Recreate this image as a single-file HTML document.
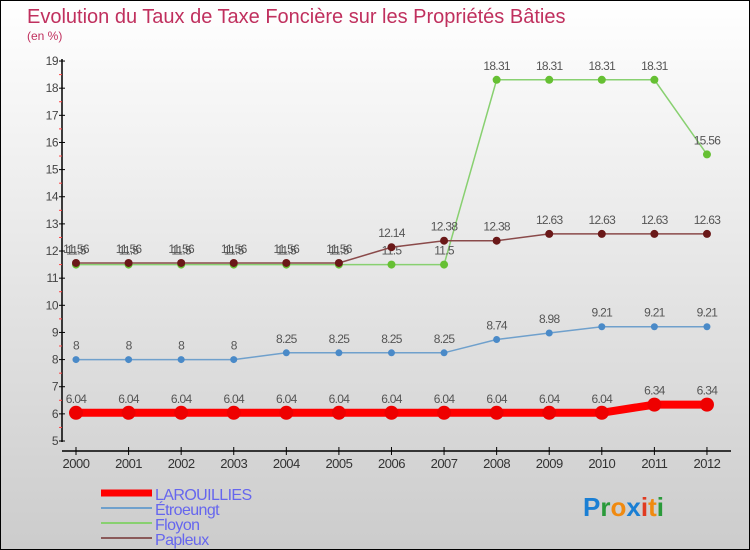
<!DOCTYPE html>
<html><head><meta charset="utf-8"><style>
body{margin:0}
#c{position:relative;width:748px;height:548px;border:1px solid #000;background:linear-gradient(#fff,#ccc);font-family:"Liberation Sans",sans-serif;overflow:hidden}
</style></head><body>
<div id="c">
<svg id="s" width="748" height="548" style="position:absolute;left:0;top:0">
<text x="26" y="22" font-size="20" fill="#c0305e">Evolution du Taux de Taxe Foncière sur les Propriétés Bâties</text>
<text x="26" y="39" font-size="12" fill="#c0305e">(en %)</text>
<g id="ax"></g><g id="series"></g>
<g>
<line x1="100" y1="492" x2="151" y2="492" stroke="#f00" stroke-width="7"/>
<text x="154" y="499" font-size="16" letter-spacing="-0.6" fill="#6666ee">LAROUILLIES</text>
<line x1="100" y1="507" x2="151" y2="507" stroke="#6fa0cc" stroke-width="2"/>
<text x="154" y="514" font-size="16" letter-spacing="-0.6" fill="#6666ee">Étroeungt</text>
<line x1="100" y1="522" x2="151" y2="522" stroke="#88d070" stroke-width="2"/>
<text x="154" y="529" font-size="16" letter-spacing="-0.6" fill="#6666ee">Floyon</text>
<line x1="100" y1="537" x2="151" y2="537" stroke="#8a5a5a" stroke-width="2"/>
<text x="154" y="544" font-size="16" letter-spacing="-0.6" fill="#6666ee">Papleux</text>
</g>
<text x="582" y="515" font-size="26" font-weight="bold"><tspan fill="#1a7fd4">P</tspan><tspan fill="#2a9a3a">r</tspan><tspan fill="#f08a10">o</tspan><tspan fill="#1a7fd4">x</tspan><tspan fill="#e03a20">i</tspan><tspan fill="#f08a10">t</tspan><tspan fill="#2a9a3a">i</tspan></text>
</svg>
</div>
<script>
const years=[2000,2001,2002,2003,2004,2005,2006,2007,2008,2009,2010,2011,2012];
const larouillies=[6.04,6.04,6.04,6.04,6.04,6.04,6.04,6.04,6.04,6.04,6.04,6.34,6.34];
const etroeungt=[8,8,8,8,8.25,8.25,8.25,8.25,8.74,8.98,9.21,9.21,9.21];
const floyon=[11.5,11.5,11.5,11.5,11.5,11.5,11.5,11.5,18.31,18.31,18.31,18.31,15.56];
const papleux=[11.56,11.56,11.56,11.56,11.56,11.56,12.14,12.38,12.38,12.63,12.63,12.63,12.63];
const yTicks=[5,6,7,8,9,10,11,12,13,14,15,16,17,18,19];
const NS="http://www.w3.org/2000/svg";
const X=i=>75+i*52.58;
const Y=v=>440-(v-5)*27.14;
function mk(tag,at,parent){const e=document.createElementNS(NS,tag);for(const k in at)e.setAttribute(k,at[k]);parent.appendChild(e);return e;}
const ax=document.getElementById('ax');
let l=mk('line',{x1:61,y1:Y(19)-2,x2:61,y2:Y(5)+1,stroke:'#000','stroke-width':1.5},ax);


yTicks.forEach(v=>{
 let t=mk('line',{x1:58,y1:Y(v),x2:64,y2:Y(v),stroke:'#000'},ax);
 
 
 if(v<19){let h=mk('line',{x1:58,y1:Y(v+0.5),x2:61,y2:Y(v+0.5),stroke:'#f44'},ax);
 
 }
 let tx=mk('text',{x:57,y:Y(v)+4,'font-size':12,fill:'#444','text-anchor':'end','letter-spacing':'-0.5'},ax);tx.textContent=v;
 
 
});
l=mk('line',{x1:61,y1:450,x2:730,y2:450,stroke:'#000','stroke-width':1.5},ax);


years.forEach((y,i)=>{
 let t=mk('line',{x1:X(i),y1:446,x2:X(i),y2:454,stroke:'#000'},ax);
 
 
 let tx=mk('text',{x:X(i),y:467,'font-size':13,fill:'#333','text-anchor':'middle','letter-spacing':'-0.5'},ax);tx.textContent=y;
 
 
});
const sg=document.getElementById('series');
function draw(vals,name,color,w,r,fill){
 const g=mk('g',{},sg);
 
 
 const p=mk('polyline',{points:vals.map((v,i)=>X(i)+','+Y(v)).join(' '),fill:'none',stroke:color,'stroke-width':w},g);
 
 
 vals.forEach((v,i)=>{
  const c=mk('circle',{cx:X(i),cy:Y(v),r:r,fill:fill},g);
  
  
  const t=mk('text',{x:X(i),y:Y(v)-10,'font-size':12,fill:'#555','text-anchor':'middle','letter-spacing':'-0.7'},g);
  t.textContent=String(v);
  
  
 });
}
draw(floyon,'floyon','#88d070',1.5,4,'#66c033');
draw(papleux,'papleux','#8a4a4a',1.5,4,'#6a1818');
draw(etroeungt,'etroeungt','#6fa0cc',1.5,3.5,'#4a8ac8');
draw(larouillies,'larouillies','#f00',8,7,'#e00');
</script>
</body></html>
